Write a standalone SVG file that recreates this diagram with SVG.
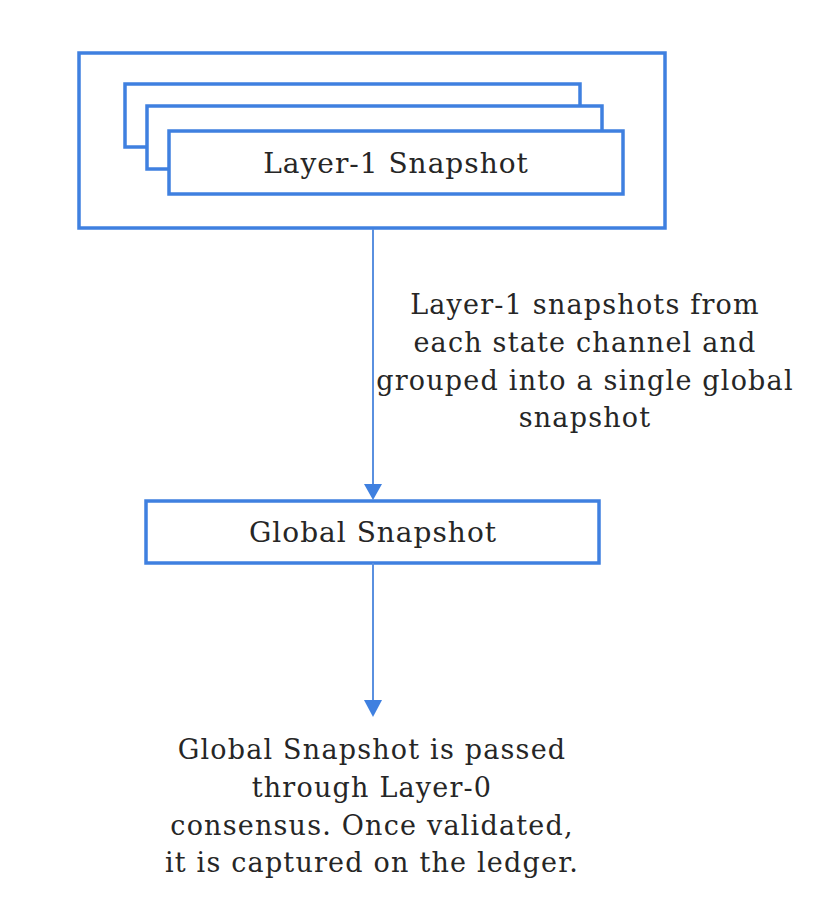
<svg xmlns="http://www.w3.org/2000/svg" width="834" height="910" viewBox="0 0 834 910">
<defs>
<style>
.box{fill:#fff;stroke:#3f80e0;stroke-width:3.5}
.t{font-family:"DejaVu Serif","Liberation Serif",serif;fill:#262626;text-anchor:middle}
.n{font-size:28px;letter-spacing:1px}
.l{font-size:27px;letter-spacing:1.2px}
.c{stroke:#5a90e0;stroke-width:2;fill:none}
</style>
</defs>
<rect width="834" height="910" fill="#fff"/>
<g id="layer1-group">
<rect class="box" x="79" y="53" width="586" height="175"/>
</g>
<g id="card-1"><rect class="box" x="125" y="84" width="455" height="63"/></g>
<g id="card-2"><rect class="box" x="147" y="106" width="455" height="63"/></g>
<g id="layer1-snapshot">
<rect class="box" x="169" y="131" width="454" height="63"/>
<text class="t n" x="396" y="173">Layer-1 Snapshot</text>
</g>
<g id="global-snapshot">
<rect class="box" x="146" y="501" width="453" height="62"/>
<text class="t n" x="373" y="542">Global Snapshot</text>
</g>
<g id="connectors">
<line class="c" x1="373" y1="229" x2="373" y2="486"/>
<path d="M364,484 L382,484 L373,500 Z" fill="#3f80e0"/>
<line class="c" x1="373" y1="563" x2="373" y2="702"/>
<path d="M364,700 L382,700 L373,717 Z" fill="#3f80e0"/>
</g>
<g id="label-1">
<text class="t l" x="585" y="314">Layer-1 snapshots from</text>
<text class="t l" x="585" y="352">each state channel and</text>
<text class="t l" x="585" y="390">grouped into a single global</text>
<text class="t l" x="585" y="427">snapshot</text>
</g>
<g id="label-2">
<text class="t l" x="372" y="759">Global Snapshot is passed</text>
<text class="t l" x="372" y="797">through Layer-0</text>
<text class="t l" x="372" y="835">consensus. Once validated,</text>
<text class="t l" x="372" y="872">it is captured on the ledger.</text>
</g>
</svg>
